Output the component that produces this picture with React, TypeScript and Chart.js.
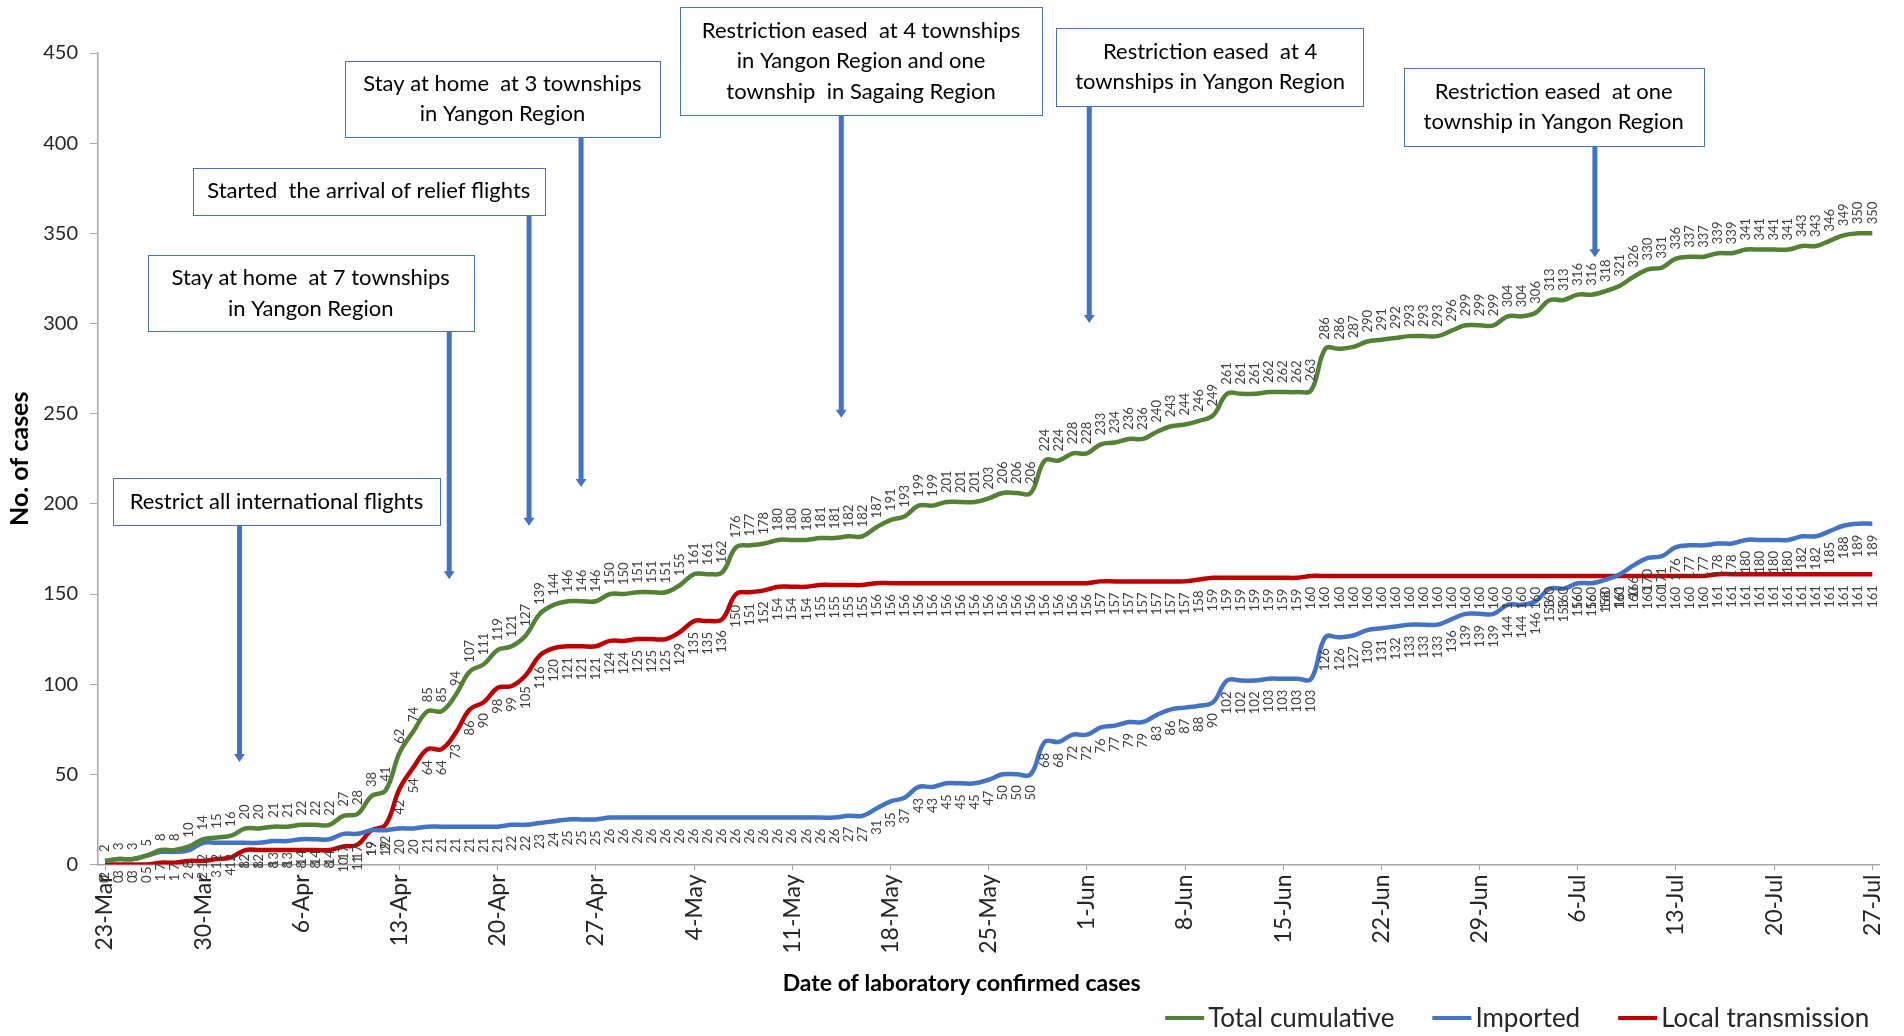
import { useEffect, useRef } from "react";
import { Chart, registerables } from "chart.js";

Chart.register(...registerables);

const MONTHS = ["Jan", "Feb", "Mar", "Apr", "May", "Jun", "Jul", "Aug"];
const DAY_COUNT = 127;
const categories: string[] = Array.from({ length: DAY_COUNT }, (_, i) => {
  const d = new Date(2020, 2, 23 + i);
  return `${d.getDate()}-${MONTHS[d.getMonth()]}`;
});

const tickLabels = [
  "23-Mar", "30-Mar", "6-Apr", "13-Apr", "20-Apr", "27-Apr", "4-May", "11-May",
  "18-May", "25-May", "1-Jun", "8-Jun", "15-Jun", "22-Jun", "29-Jun", "6-Jul",
  "13-Jul", "20-Jul", "27-Jul",
];

const yTicks = { min: 0, max: 450, step: 50 };

const totalCumulative = [
  2, 3, 3, 5, 8, 8, 10, 14, 15, 16, 20, 20, 21, 21, 22, 22, 22, 27, 28, 38,
  41, 62, 74, 85, 85, 94, 107, 111, 119, 121, 127, 139, 144, 146, 146, 146, 150, 150, 151, 151,
  151, 155, 161, 161, 162, 176, 177, 178, 180, 180, 180, 181, 181, 182, 182, 187, 191, 193, 199, 199,
  201, 201, 201, 203, 206, 206, 206, 224, 224, 228, 228, 233, 234, 236, 236, 240, 243, 244, 246, 249,
  261, 261, 261, 262, 262, 262, 263, 286, 286, 287, 290, 291, 292, 293, 293, 293, 296, 299, 299, 299,
  304, 304, 306, 313, 313, 316, 316, 318, 321, 326, 330, 331, 336, 337, 337, 339, 339, 341, 341, 341,
  341, 343, 343, 346, 349, 350, 350,
];

const imported = [
  2, 3, 3, 5, 7, 7, 8, 12, 12, 12, 12, 12, 13, 13, 14, 14, 14, 17, 17, 19,
  19, 20, 20, 21, 21, 21, 21, 21, 21, 22, 22, 23, 24, 25, 25, 25, 26, 26, 26, 26,
  26, 26, 26, 26, 26, 26, 26, 26, 26, 26, 26, 26, 26, 27, 27, 31, 35, 37, 43, 43,
  45, 45, 45, 47, 50, 50, 50, 68, 68, 72, 72, 76, 77, 79, 79, 83, 86, 87, 88, 90,
  102, 102, 102, 103, 103, 103, 103, 126, 126, 127, 130, 131, 132, 133, 133, 133, 136, 139, 139, 139,
  144, 144, 146, 153, 153, 156, 156, 158, 161, 166, 170, 171, 176, 177, 177, 178, 178, 180, 180, 180,
  180, 182, 182, 185, 188, 189, 189,
];

const localTransmission = [
  0, 0, 0, 0, 1, 1, 2, 2, 3, 4, 8, 8, 8, 8, 8, 8, 8, 10, 11, 19,
  22, 42, 54, 64, 64, 73, 86, 90, 98, 99, 105, 116, 120, 121, 121, 121, 124, 124, 125, 125,
  125, 129, 135, 135, 136, 150, 151, 152, 154, 154, 154, 155, 155, 155, 155, 156, 156, 156, 156, 156,
  156, 156, 156, 156, 156, 156, 156, 156, 156, 156, 156, 157, 157, 157, 157, 157, 157, 157, 158, 159,
  159, 159, 159, 159, 159, 159, 160, 160, 160, 160, 160, 160, 160, 160, 160, 160, 160, 160, 160, 160,
  160, 160, 160, 160, 160, 160, 160, 160, 160, 160, 160, 160, 160, 160, 160, 161, 161, 161, 161, 161,
  161, 161, 161, 161, 161, 161, 161,
];

const seriesNames = ["Total cumulative", "Imported", "Local transmission"];
const seriesColors = ["#548235", "#4472C4", "#C00000"];

// Event annotations anchored in data units (day index, case count)
const annotationTexts = [
  ["Restrict all international flights"],
  ["Stay at home  at 7 townships", "in Yangon Region"],
  ["Started  the arrival of relief flights"],
  ["Stay at home  at 3 townships", "in Yangon Region"],
  ["Restriction eased  at 4 townships", "in Yangon Region and one", "township  in Sagaing Region"],
  ["Restriction eased  at 4", "townships in Yangon Region"],
  ["Restriction eased  at one", "township in Yangon Region"],
];
const annotationBoxX = [
  [0.57, 23.87], [3.05, 26.28], [6.25, 31.36], [17.12, 39.55], [41.0, 66.8], [67.83, 89.74], [92.59, 113.98],
];
const annotationBoxY = [
  [214.3, 188.3], [338.0, 295.6], [386.5, 360.2], [445.7, 403.3], [475.3, 415.4], [463.9, 420.8], [441.7, 398.6],
];
const arrowDay = [9.59, 24.54, 30.23, 33.94, 52.49, 70.17, 106.22];
const arrowTo = [56.8, 158.2, 187.8, 209.3, 247.8, 300.3, 336.7];

const FONT = "Lato, 'Open Sans', sans-serif";

const overlayPlugin = {
  id: "overlay",
  afterDatasetsDraw(chart: any) {
    const ctx: CanvasRenderingContext2D = chart.ctx;
    chart.data.datasets.forEach((ds: any, i: number) => {
      const meta = chart.getDatasetMeta(i);
      ctx.save();
      ctx.font = `13px ${FONT}`;
      ctx.fillStyle = "#404040";
      ctx.textBaseline = "middle";
      meta.data.forEach((pt: any, j: number) => {
        const v = ds.data[j];
        ctx.save();
        if (ds.labelPosition === "above") {
          ctx.translate(pt.x, pt.y - 9);
          ctx.rotate(-Math.PI / 2);
          ctx.textAlign = "left";
        } else {
          ctx.translate(pt.x, pt.y + 11);
          ctx.rotate(-Math.PI / 2);
          ctx.textAlign = "right";
        }
        ctx.fillText(String(v), 0, 0);
        ctx.restore();
      });
      ctx.restore();
    });
  },
  afterDraw(chart: any) {
    const ctx: CanvasRenderingContext2D = chart.ctx;
    const xs = chart.scales.x;
    const ys = chart.scales.y;
    const area = chart.chartArea;

    // annotations
    annotationTexts.forEach((lines, k) => {
      const l = xs.getPixelForValue(annotationBoxX[k][0]);
      const r = xs.getPixelForValue(annotationBoxX[k][1]);
      const t = ys.getPixelForValue(annotationBoxY[k][0]);
      const b = ys.getPixelForValue(annotationBoxY[k][1]);
      const ax = xs.getPixelForValue(arrowDay[k]);
      const ay = ys.getPixelForValue(arrowTo[k]);
      ctx.save();
      ctx.strokeStyle = "#4472C4";
      ctx.fillStyle = "#4472C4";
      ctx.lineWidth = 5;
      ctx.beginPath();
      ctx.moveTo(ax, b);
      ctx.lineTo(ax, ay - 7);
      ctx.stroke();
      ctx.beginPath();
      ctx.moveTo(ax - 5.5, ay - 8);
      ctx.lineTo(ax + 5.5, ay - 8);
      ctx.lineTo(ax, ay);
      ctx.closePath();
      ctx.fill();
      ctx.fillStyle = "#ffffff";
      ctx.fillRect(l, t, r - l, b - t);
      ctx.lineWidth = 1;
      ctx.strokeStyle = "#4472C4";
      ctx.strokeRect(Math.round(l) + 0.5, Math.round(t) + 0.5, Math.round(r - l), Math.round(b - t));
      ctx.fillStyle = "#000000";
      ctx.font = `22px ${FONT}`;
      ctx.textAlign = "center";
      ctx.textBaseline = "middle";
      const lh = 30.5;
      const cy = (t + b) / 2;
      const cx = (l + r) / 2;
      lines.forEach((line, n) => {
        ctx.fillText(line, cx, cy + (n - (lines.length - 1) / 2) * lh);
      });
      ctx.restore();
    });

    // x axis title
    ctx.save();
    ctx.font = `bold 23px ${FONT}`;
    ctx.fillStyle = "#000000";
    ctx.textAlign = "center";
    ctx.textBaseline = "middle";
    ctx.fillText("Date of laboratory confirmed cases", (area.left + area.right) / 2 - 27, 984);
    ctx.restore();

    // legend
    ctx.save();
    ctx.font = `26px ${FONT}`;
    ctx.textBaseline = "middle";
    ctx.textAlign = "left";
    const lineLen = 39;
    const gapText = 4;
    const gapItem = 38;
    const widths = seriesNames.map((n) => ctx.measureText(n).width);
    const total = widths.reduce((a, w) => a + lineLen + gapText + w, 0) + gapItem * (seriesNames.length - 1);
    let x = area.right - 10 - total;
    const ly = 1018;
    seriesNames.forEach((n, k) => {
      ctx.strokeStyle = seriesColors[k];
      ctx.lineWidth = 4;
      ctx.beginPath();
      ctx.moveTo(x, ly);
      ctx.lineTo(x + lineLen, ly);
      ctx.stroke();
      ctx.fillStyle = "#262626";
      ctx.fillText(n, x + lineLen + gapText, ly + 1);
      x += lineLen + gapText + widths[k] + gapItem;
    });
    ctx.restore();
  },
};

export default function App() {
  const canvasRef = useRef<HTMLCanvasElement | null>(null);

  useEffect(() => {
    if (!canvasRef.current) return;
    const mk = (k: number, data: number[], pos: string) =>
      ({
        label: seriesNames[k],
        data,
        borderColor: seriesColors[k],
        backgroundColor: seriesColors[k],
        borderWidth: 4.5,
        tension: 0.4,
        pointRadius: 0,
        labelPosition: pos,
      }) as any;
    const chart = new Chart(canvasRef.current, {
      type: "line",
      data: {
        labels: categories,
        datasets: [
          mk(0, totalCumulative, "above"),
          mk(1, imported, "below"),
          mk(2, localTransmission, "below"),
        ],
      },
      options: {
        animation: false,
        responsive: false,
        devicePixelRatio: 1,
        layout: { padding: { left: 0, right: 18, top: 53, bottom: 0 } },
        plugins: {
          legend: { display: false },
          tooltip: { enabled: false },
          title: { display: false },
        },
        scales: {
          x: {
            type: "category",
            offset: true,
            grid: { display: true, drawOnChartArea: false, drawTicks: true, tickLength: 6, color: "#A6A6A6" },
            border: { display: true, color: "#A6A6A6", width: 1.5 },
            ticks: {
              autoSkip: false,
              maxRotation: 90,
              minRotation: 90,
              padding: 4,
              color: "#262626",
              font: { family: FONT, size: 23 },
              callback: (_v: any, index: number) => {
                const lbl = categories[index];
                return tickLabels.includes(lbl) ? lbl : null;
              },
            },
            afterFit: (s: any) => {
              s.height = 171.5;
            },
          },
          y: {
            min: yTicks.min,
            max: yTicks.max,
            grid: { display: true, drawOnChartArea: false, drawTicks: true, tickLength: 8, color: "#A6A6A6" },
            border: { display: true, color: "#A6A6A6", width: 1.5 },
            ticks: {
              stepSize: yTicks.step,
              padding: 12,
              color: "#262626",
              font: { family: FONT, size: 20 },
            },
            title: {
              display: true,
              text: "No. of cases",
              color: "#000000",
              font: { family: FONT, size: 25, weight: "bold" },
              padding: { top: 5, bottom: 0 },
            },
            afterFit: (s: any) => {
              s.width = 98;
            },
          },
        },
      } as any,
      plugins: [overlayPlugin],
    });
    return () => chart.destroy();
  }, []);

  return (
    <div style={{ position: "fixed", left: 0, top: 0, width: 1904, height: 1036, background: "#ffffff" }}>
      <canvas ref={canvasRef} width={1904} height={1036} style={{ width: 1904, height: 1036, display: "block" }} />
    </div>
  );
}
